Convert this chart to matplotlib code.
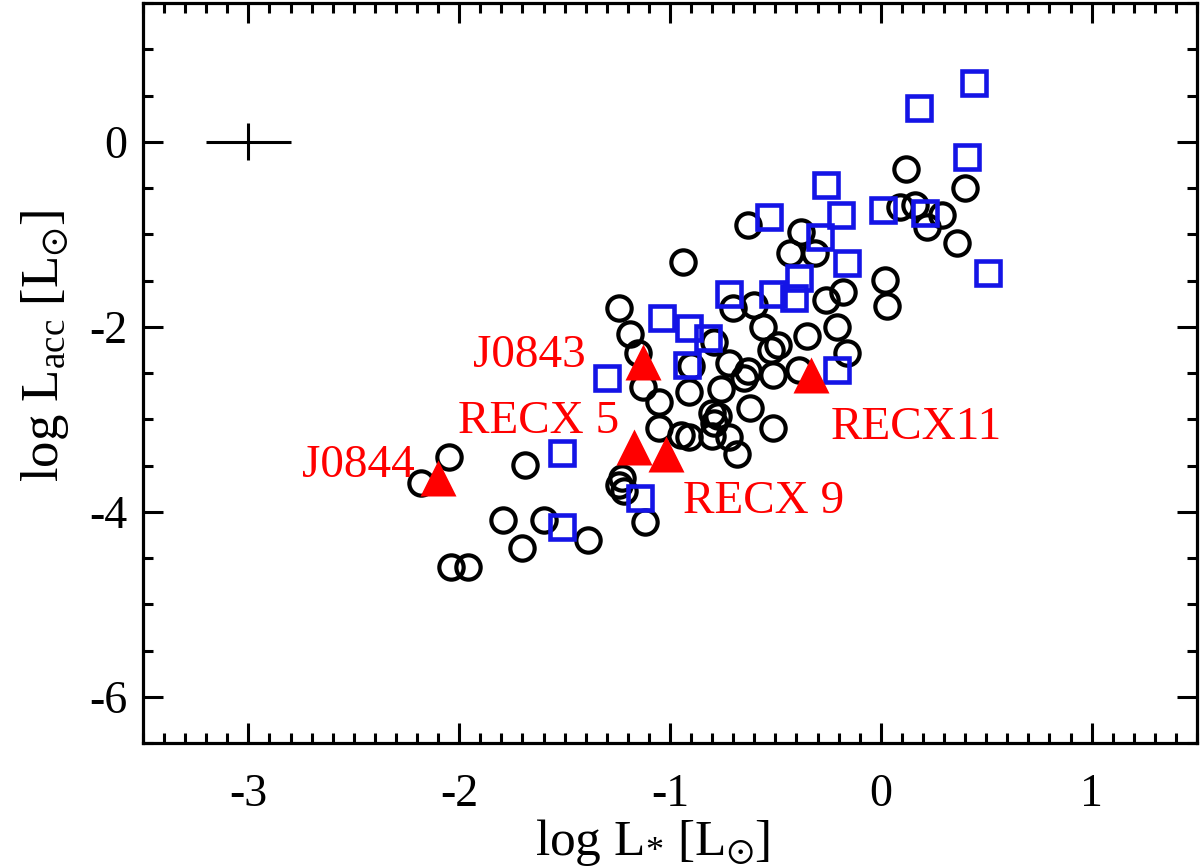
import matplotlib
matplotlib.use("Agg")
import matplotlib.pyplot as plt
from matplotlib.ticker import MultipleLocator

plt.rcParams['font.family'] = ['Liberation Serif', 'DejaVu Serif']
plt.rcParams['mathtext.fontset'] = 'custom'
plt.rcParams['mathtext.rm'] = 'Liberation Serif'
plt.rcParams['mathtext.it'] = 'Liberation Serif:italic'
plt.rcParams['mathtext.fallback'] = 'stix'
plt.rcParams['axes.unicode_minus'] = False

# ---- data ----
circ_x = [-2.04, -1.96, -2.18, -2.05, -1.79, -1.60, -1.70, -1.39, -1.69,
          -1.24, -1.19, -1.15, -1.13, -1.05, -1.05, -0.95, -0.91, -1.23, -1.24, -1.22, -1.12,
          -0.91, -0.76, -0.65, -0.80, -0.77, -0.79, -0.62, -0.51, -0.80, -0.72, -0.68,
          -0.90, -0.72, -0.63, -0.51, -0.94, -0.70, -0.60, -0.56, -0.49, -0.52, -0.35, -0.21, -0.16,
          -0.26, -0.18, -0.63, -0.38, -0.43, -0.31, 0.02, 0.03, 0.12, 0.09, 0.16, 0.22, 0.29, 0.36, 0.40,
          -0.39, -0.79]
circ_y = [-4.60, -4.60, -3.69, -3.41, -4.09, -4.09, -4.39, -4.30, -3.49,
          -1.80, -2.08, -2.28, -2.65, -2.81, -3.09, -3.17, -3.19, -3.63, -3.71, -3.78, -4.11,
          -2.71, -2.67, -2.55, -2.93, -2.96, -3.04, -2.88, -3.09, -3.18, -3.19, -3.38,
          -2.42, -2.39, -2.48, -2.52, -1.30, -1.80, -1.77, -2.00, -2.20, -2.25, -2.10, -2.00, -2.28,
          -1.71, -1.62, -0.90, -0.98, -1.20, -1.20, -1.49, -1.78, -0.29, -0.70, -0.68, -0.92, -0.79, -1.09, -0.50,
          -2.47, -2.17]

sq_x = [0.44, 0.18, 0.41, -0.26, -0.53, -0.19, 0.01, 0.21, 0.51, -0.29, -0.16, -0.39,
        -0.72, -0.51, -0.41, -1.04, -0.91, -0.82, -0.92, -0.21, -1.30, -1.51, -1.14, -1.51]
sq_y = [0.64, 0.37, -0.17, -0.47, -0.81, -0.79, -0.74, -0.77, -1.42, -1.03, -1.31, -1.47,
        -1.65, -1.65, -1.69, -1.90, -2.01, -2.12, -2.41, -2.47, -2.55, -3.36, -3.85, -4.17]

tri_names = ['J0844', 'J0843', 'RECX 5', 'RECX 9', 'RECX11']
tri_x = [-2.10, -1.13, -1.17, -1.02, -0.33]
tri_y = [-3.63, -2.38, -3.30, -3.38, -2.52]

# label anchor positions (layout) and alignment
lab_pos = [(-2.21, -3.62, 'right'), (-1.40, -2.44, 'right'), (-1.24, -3.15, 'right'),
           (-0.94, -4.01, 'left'), (-0.24, -3.21, 'left')]

err_x, err_y, err_dx, err_dy = -3.0, 0.0, 0.2, 0.2

fig = plt.figure(figsize=(12, 8.68), dpi=100)
ax = fig.add_axes([143/1200, 1-743/868, 1054/1200, 740/868])

ax.errorbar([err_x], [err_y], xerr=[err_dx], yerr=[err_dy], fmt='none',
            ecolor='black', elinewidth=2.2, capsize=0)

ax.plot(circ_x, circ_y, linestyle='none', marker='o', ms=17.5, mfc='none',
        mec='black', mew=3.0, zorder=3)
ax.plot(sq_x, sq_y, linestyle='none', marker='s', ms=17.5, mfc='none',
        mec='#1414e6', mew=3.3, zorder=4)
ax.plot(tri_x, tri_y, linestyle='none', marker='^', ms=26, mfc='#ff0000',
        mec='none', zorder=5)

for name, (lx, ly, ha) in zip(tri_names, lab_pos):
    ax.text(lx, ly, name, color='#ff0000', fontsize=34, ha=ha, va='baseline', zorder=6)

ax.set_xlim(-3.5, 1.5)
ax.set_ylim(-6.5, 1.5)
ax.xaxis.set_major_locator(MultipleLocator(1))
ax.xaxis.set_minor_locator(MultipleLocator(0.1))
ax.yaxis.set_major_locator(MultipleLocator(2))
ax.yaxis.set_minor_locator(MultipleLocator(0.5))

for s in ax.spines.values():
    s.set_linewidth(2.3)
ax.tick_params(which='both', direction='in', top=True, right=True, width=2.2)
ax.tick_params(which='major', length=14.5, labelsize=33)
ax.tick_params(which='minor', length=7.2)
ax.tick_params(axis='x', which='major', pad=22)
ax.tick_params(axis='y', which='major', pad=11)

ax.set_xlabel(r'log L$_{*}$ [L$_{\odot}$]', fontsize=37, va='baseline')
ax.xaxis.set_label_coords(0.483, -0.151)
ax.set_ylabel(r'log L$_{\rm acc}$ [L$_{\odot}$]', fontsize=38, va='baseline')
ax.yaxis.set_label_coords(-0.0806, 0.536)

fig.savefig('out.png', dpi=100)
